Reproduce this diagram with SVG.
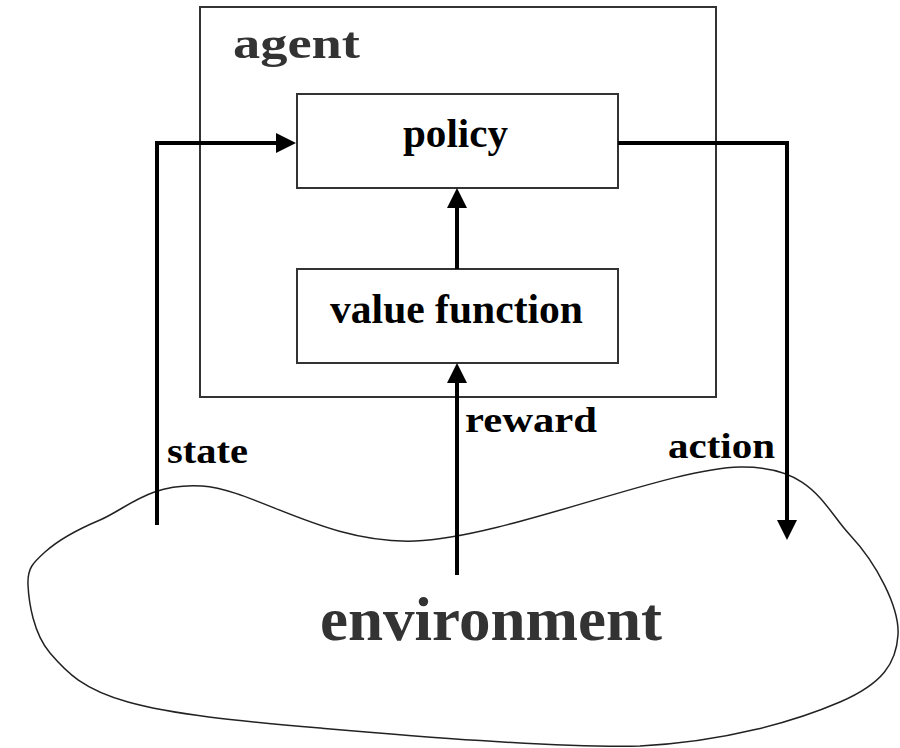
<svg xmlns="http://www.w3.org/2000/svg" width="900" height="748" viewBox="0 0 900 748">
  <defs>
    <marker id="arrow" markerUnits="userSpaceOnUse" markerWidth="20" markerHeight="20" refX="16" refY="10" orient="auto">
      <path d="M0,0 L20,10 L0,20 z" fill="#000"/>
    </marker>
    <style>
      .box { fill: #fff; stroke: #333; stroke-width: 2; }
      .frame { fill: none; stroke: #333; stroke-width: 2; }
      .lbl { font-family: "Liberation Serif", "Times New Roman", serif; font-weight: bold; }
      .conn { fill: none; stroke: #000; stroke-width: 4; marker-end: url(#arrow); }
    </style>
  </defs>
  <rect width="900" height="748" fill="#fff"/>

  <g id="environment">
    <path fill="#fff" stroke="#222" stroke-width="1.5" d="M28,585 C27.2,568.2 33,562.8 45,552 C57,541.2 73.8,531 100,520 C126.2,509 149.5,482.5 202,486 C254.5,489.5 325.3,544.2 415,541 C504.7,537.8 667.5,468 740,467 C812.5,466 823.7,507 850,535 C876.3,563 899.7,607.2 898,635 C896.3,662.8 883,683.5 840,702 C797,720.5 726.7,741.7 640,746 C553,748 405.3,735.3 320,728 C234.7,720.7 173,714.5 128,702 C83,689.5 66.7,672.5 50,653 C33.3,633.5 28.8,601.8 28,585 Z"/>
    <text class="lbl" x="320" y="640" font-size="62" fill="#333" textLength="342" lengthAdjust="spacingAndGlyphs">environment</text>
  </g>

  <g id="agent">
    <rect class="frame" x="200" y="7" width="516" height="390"/>
    <text class="lbl" x="233" y="58" font-size="44" fill="#333" textLength="127" lengthAdjust="spacingAndGlyphs">agent</text>
  </g>

  <g id="policy">
    <rect class="box" x="297" y="94" width="321" height="94"/>
    <text class="lbl" x="403" y="147" font-size="40" fill="#000" textLength="105" lengthAdjust="spacingAndGlyphs">policy</text>
  </g>

  <g id="value-function">
    <rect class="box" x="297" y="269" width="321" height="94"/>
    <text class="lbl" x="330" y="323" font-size="42" fill="#000" textLength="253" lengthAdjust="spacingAndGlyphs">value function</text>
  </g>

  <g id="connectors">
    <path class="conn" d="M157,525 V143 H292"/>
    <path class="conn" d="M618,143 H787 V536"/>
    <path class="conn" d="M457,269 V192"/>
    <path class="conn" d="M457,575 V367"/>
    <text class="lbl" x="167" y="463" font-size="35" fill="#000" textLength="81" lengthAdjust="spacingAndGlyphs">state</text>
    <text class="lbl" x="465" y="432" font-size="35" fill="#000" textLength="132" lengthAdjust="spacingAndGlyphs">reward</text>
    <text class="lbl" x="668" y="458" font-size="35" fill="#000" textLength="107" lengthAdjust="spacingAndGlyphs">action</text>
  </g>
</svg>
